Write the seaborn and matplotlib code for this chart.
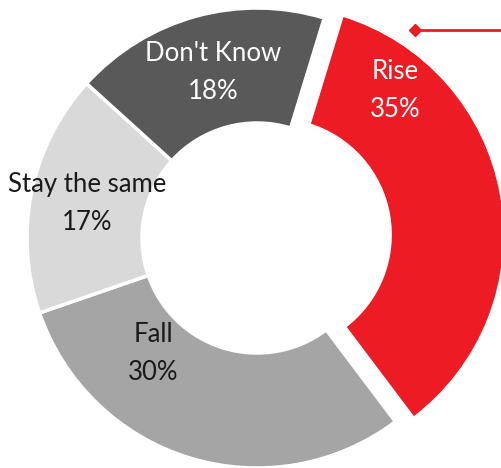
import matplotlib
matplotlib.use("Agg")
import matplotlib.pyplot as plt
import seaborn as sns

categories = ["Rise", "Fall", "Stay the same", "Don't Know"]
values = [35, 30, 17, 18]
colors = ["#ED1C24", "#A5A5A5", "#D9D9D9", "#595959"]
text_colors = ["white", "#1a1a1a", "#1a1a1a", "white"]
label_pos = [(0.60, 0.64), (-0.45, -0.50), (-0.74, 0.15), (-0.19, 0.72)]

sns.set_theme(style="white")
plt.rcParams['font.family'] = ['Lato', 'DejaVu Sans']

fig = plt.figure(figsize=(5.02, 4.68), dpi=100)
ax = fig.add_axes([0, 0, 1, 1])
ax.axis("off")

wedges, _ = ax.pie(values, colors=colors, startangle=73, counterclock=False,
                   radius=1.0, explode=[0.08, 0, 0, 0],
                   wedgeprops=dict(width=0.5, edgecolor="white", linewidth=2.5))

for cat, v, pos, tc in zip(categories, values, label_pos, text_colors):
    ax.text(pos[0], pos[1], f"{cat}\n{v}%", ha="center", va="center",
            color=tc, fontsize=18.5, linespacing=1.65, fontweight="normal")

# leader line with diamond
ax.plot([0.687, 1.1], [0.904, 0.904], color="#ED1C24", lw=2, solid_capstyle="butt")
ax.plot([0.687], [0.904], marker="D", color="#ED1C24", markersize=6)

ax.set_xlim(-257/230, 245/230)
ax.set_ylim(-230/230, 238/230)
ax.set_aspect("auto")
fig.savefig("out.png", dpi=100)
